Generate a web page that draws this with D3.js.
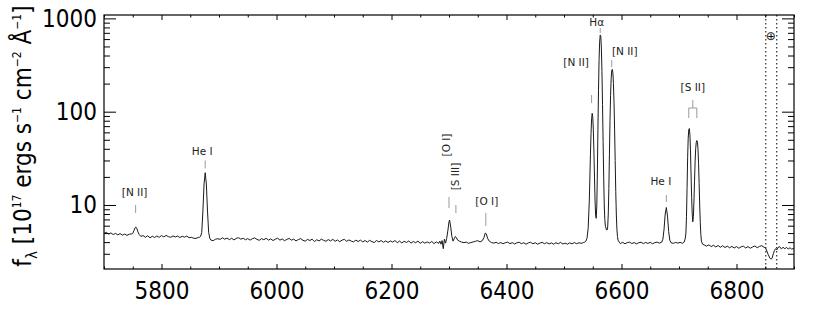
<!DOCTYPE html>
<html>
<head>
<meta charset="utf-8">
<script src="https://cdn.jsdelivr.net/npm/d3@7"></script>
<style>
  html, body { margin: 0; padding: 0; background: #fff; }
  svg { display: block; }
  .big { font-family: "DejaVu Sans Condensed", "DejaVu Sans", sans-serif; font-stretch: condensed; }
  .ann { font-family: "DejaVu Sans", sans-serif; }
</style>
</head>
<body>
<svg id="chart" width="830" height="317"></svg>
<script>
// ---------------- data ----------------
const wavelength = [
  5700,5704,5708,5712,5716,5720,5724,5728,5732,5736,5740,5744,5748,
  5750,5752,5754,5755.5,5757,5759,5761,5764,5768,
  5772,5776,5780,5784,5788,5792,5796,5800,5804,5808,5812,5816,5820,5824,5828,5832,5836,5840,5844,5848,5852,5856,5860,5864,
  5866,5868,5870,5872,5874,5876,5878,5880,5882,5884,5886,5890,5894,5898,
  5902,5906,5910,5914,5918,5922,5926,5930,5934,5938,5942,5946,5950,5954,5958,5962,5966,5970,5974,5978,
  5982,5986,5990,5994,5998,6002,6006,6010,6014,6018,6022,6026,6030,6034,6038,6042,6046,6050,6054,6058,
  6062,6066,6070,6074,6078,6082,6086,6090,6094,6098,6102,6106,6110,6114,6118,6122,6126,6130,6134,6138,
  6142,6146,6150,6154,6158,6162,6166,6170,6174,6178,6182,6186,6190,6194,6198,6202,6206,6210,6214,6218,
  6222,6226,6230,6234,6238,6242,6246,6250,6254,6258,6262,6266,6270,6274,6278,6282,
  6284,6286,6288,6290,6292,6294,6296,6298,6300,6301,6303,6305,6307,6309,6311,6313,6315,6318,6322,6326,
  6330,6334,6338,6342,6346,6350,6354,6358,6361,6363,6365,6367,6370,6374,6378,
  6382,6386,6390,6394,6398,6402,6406,6410,6414,6418,6422,6426,6430,6434,6438,6442,6446,6450,6454,6458,
  6462,6466,6470,6474,6478,6482,6486,6490,6494,6498,6502,6506,6510,6514,6518,6522,6526,6530,6534,6536,6538,
  6540,6542,6544,6546,6547,6548,6549,6550,6551,6552,6553,6554,6555,6556,6557,6558,6559,6560,6561,6562,
  6563,6564,6565,6566,6567,6568,6569,6570,6571,6572,6574,6575,6576,6577,6578,6579,6580,6581,6582,6583,
  6584,6585,6586,6587,6588,6589,6590,6591,6592,6593,6594,6596,
  6598,6602,6606,6610,6614,6618,6622,6626,6630,6634,6638,6642,6646,6650,6654,6658,6662,6666,6670,
  6672,6674,6676,6678,6680,6682,6684,6686,6690,6694,6698,6702,6706,6709,6711,
  6712,6713,6714,6715,6716,6717,6718,6719,6720,6721,6722,6723,6724,6725,6726,6727,6728,6729,6730,6731,
  6732,6733,6734,6735,6736,6737,6738,6739,6741,6744,
  6748,6752,6756,6760,6764,6768,6772,6776,6780,6784,6788,6792,6796,6800,6804,6808,6812,6816,6820,6824,
  6828,6832,6836,6840,6844,6848,6850,6852,6855,6858,6860,6862,6864,6866,6868,6870,6872,6875,6878,6881,
  6884,6887,6890,6893,6896,6900
];
const flux = [
  4.95,5.1,4.88,5.02,4.82,4.96,4.78,4.94,4.75,4.88,4.72,4.86,4.9,
  4.95,5.3,5.7,5.8,5.6,5.15,4.85,4.6,4.7,
  4.5,4.68,4.45,4.62,4.48,4.66,4.5,4.7,4.55,4.72,4.58,4.5,4.66,4.54,4.64,4.48,4.62,4.52,4.64,4.46,4.5,4.4,4.38,4.5,
  4.5,4.6,5.1,8.6,16.8,22.2,16.8,8.6,5.1,4.4,4.2,4.15,4.3,4.35,
  4.28,4.45,4.3,4.42,4.25,4.4,4.22,4.38,4.46,4.3,4.4,4.24,4.36,4.2,4.35,4.44,4.28,4.18,4.36,4.24,
  4.4,4.2,4.33,4.16,4.3,4.4,4.2,4.32,4.14,4.28,4.38,4.2,4.3,4.12,4.26,4.36,4.18,4.1,4.28,4.16,
  4.3,4.05,4.24,4.12,4.3,4.18,4.08,4.26,4.12,4.28,4.08,4.22,4.04,4.2,4.28,4.08,4.22,4.1,4.02,4.2,
  4.06,4.2,4.02,4.16,4.0,4.18,4.04,3.96,4.16,4.02,4.16,3.98,4.12,3.96,4.12,4.0,4.16,3.95,4.1,3.92,
  4.08,3.96,4.12,3.9,4.06,3.94,4.1,3.88,4.04,3.9,4.02,3.9,4.06,3.86,4.02,3.88,
  4.1,3.8,4.15,3.4,4.3,3.9,4.4,5.3,6.6,6.9,5.8,4.6,4.1,4.35,4.6,4.45,4.2,4.1,4.0,3.95,
  4.0,3.88,3.95,4.02,4.08,4.15,4.02,4.15,4.5,5.0,4.9,4.4,4.1,3.95,3.9,
  3.98,3.86,3.96,3.84,3.94,4.0,3.85,3.95,3.82,3.93,3.99,3.85,3.94,3.8,3.93,3.98,3.84,3.94,3.8,3.9,
  3.98,3.84,3.95,3.82,3.92,3.8,3.94,3.84,3.97,3.82,3.9,3.8,3.93,3.83,3.96,3.84,3.94,3.88,3.96,4.0,4.1,
  4.4,5.6,11,35,58,84,96,88,64,38,20,11,7.8,7.2,9.5,22,65,170,360,560,
  664,640,480,270,120,48,20,10,7.0,5.9,5.4,5.4,5.8,8,15,35,80,150,225,275,
  284,260,200,125,65,30,14,8,5.5,4.6,4.2,4.0,
  3.86,3.98,3.84,3.95,4.0,3.86,3.96,3.83,3.94,3.99,3.85,3.97,3.87,3.98,3.84,3.95,4.0,3.9,4.0,
  4.3,5.5,8.0,9.4,7.6,5.2,4.2,3.95,3.88,3.97,3.9,3.98,3.88,4.0,4.4,
  5.0,7.5,15,32,52,64,66,56,38,21,12,8,6.6,7.5,11,18,29,40,47,49,
  48,40,28,17,10,6.5,4.8,4.1,3.8,3.72,
  3.62,3.74,3.58,3.7,3.55,3.68,3.52,3.66,3.5,3.62,3.48,3.6,3.46,3.58,3.44,3.56,3.62,3.46,3.58,3.44,
  3.55,3.64,3.48,3.6,3.66,3.52,3.5,3.3,2.95,2.7,2.62,2.7,3.0,3.25,3.4,3.3,3.5,3.58,3.38,3.52,
  3.4,3.5,3.38,3.48,3.36,3.45
];
const xMajorTicks = [5800, 6000, 6200, 6400, 6600, 6800];
const yMajorTicks = [10, 100, 1000];
const telluricBand = [6851, 6870];
// annotations: line wavelength(s) and label
const lineLabels = [
  { name: "[N II]", wave: [5755] },
  { name: "He I",   wave: [5876] },
  { name: "[O I]",  wave: [6300] },
  { name: "[S III]",wave: [6312] },
  { name: "[O I]",  wave: [6364] },
  { name: "[N II]", wave: [6548] },
  { name: "Hα",     wave: [6563] },
  { name: "[N II]", wave: [6583] },
  { name: "He I",   wave: [6678] },
  { name: "[S II]", wave: [6717, 6731] }
];

// ---------------- layout ----------------
const svg = d3.select("#chart");
const L = 104, R = 794, T = 15, B = 269;
const x = d3.scaleLinear().domain([5700, 6900]).range([L, R]);
const y = d3.scaleLog().domain([2.06, 1087]).range([B, T]);

// ticks
const xMinor = d3.range(5700, 6901, 50).filter(v => v % 200 !== 0);
const yMinor = [];
[1, 10, 100].forEach(dec => { for (let k = 2; k <= 9; k++) { const v = k * dec; if (v >= 2.06 && v <= 1087) yMinor.push(v); } });

function styleAxis(g) {
  g.select(".domain").remove();
  g.selectAll(".tick line").attr("stroke", "#000").attr("stroke-width", 1);
}
// bottom
svg.append("g").attr("transform", `translate(0,${B})`)
  .call(d3.axisBottom(x).tickValues(xMajorTicks).tickSizeInner(-5).tickSizeOuter(0).tickPadding(13).tickFormat(d3.format("d")))
  .call(styleAxis)
  .call(g => g.selectAll("text").attr("class", "big").attr("font-size", 24).attr("fill", "#000"));
svg.append("g").attr("transform", `translate(0,${B})`)
  .call(d3.axisBottom(x).tickValues(xMinor).tickSizeInner(-2.5).tickSizeOuter(0).tickFormat(""))
  .call(styleAxis);
// top
svg.append("g").attr("transform", `translate(0,${T})`)
  .call(d3.axisTop(x).tickValues(xMajorTicks).tickSizeInner(-5).tickSizeOuter(0).tickFormat(""))
  .call(styleAxis);
svg.append("g").attr("transform", `translate(0,${T})`)
  .call(d3.axisTop(x).tickValues(xMinor).tickSizeInner(-2.5).tickSizeOuter(0).tickFormat(""))
  .call(styleAxis);
// left
svg.append("g").attr("transform", `translate(${L},0)`)
  .call(d3.axisLeft(y).tickValues(yMajorTicks).tickSizeInner(-12).tickSizeOuter(0).tickPadding(7).tickFormat(d3.format("d")))
  .call(styleAxis)
  .call(g => g.selectAll("text").attr("class", "big").attr("font-size", 24).attr("fill", "#000"));
svg.append("g").attr("transform", `translate(${L},0)`)
  .call(d3.axisLeft(y).tickValues(yMinor).tickSizeInner(-6).tickSizeOuter(0).tickFormat(""))
  .call(styleAxis);
// right
svg.append("g").attr("transform", `translate(${R},0)`)
  .call(d3.axisRight(y).tickValues(yMajorTicks).tickSizeInner(-12).tickSizeOuter(0).tickFormat(""))
  .call(styleAxis);
svg.append("g").attr("transform", `translate(${R},0)`)
  .call(d3.axisRight(y).tickValues(yMinor).tickSizeInner(-6).tickSizeOuter(0).tickFormat(""))
  .call(styleAxis);

// clip
svg.append("clipPath").attr("id", "plotclip").append("rect")
  .attr("x", L).attr("y", T).attr("width", R - L).attr("height", B - T);

// telluric dotted lines
svg.append("g").selectAll("line").data(telluricBand).join("line")
  .attr("x1", d => x(d)).attr("x2", d => x(d)).attr("y1", T).attr("y2", B)
  .attr("stroke", "#000").attr("stroke-width", 1).attr("stroke-dasharray", "1.5,2.5");
svg.append("text").attr("class", "ann")
  .attr("x", x(d3.mean(telluricBand)) - 0.5).attr("y", 39.5)
  .attr("text-anchor", "middle").attr("font-size", 12).attr("fill", "#111").text("⊕");

// spectrum
const pts = wavelength.map((w, i) => [w, flux[i]]);
svg.append("path").datum(pts)
  .attr("clip-path", "url(#plotclip)")
  .attr("fill", "none").attr("stroke", "#1a1a1a").attr("stroke-width", 1)
  .attr("stroke-linejoin", "round")
  .attr("d", d3.line().x(d => x(d[0])).y(d => y(d[1])));

// frame
svg.append("rect").attr("x", L).attr("y", T).attr("width", R - L).attr("height", B - T)
  .attr("fill", "none").attr("stroke", "#000").attr("stroke-width", 1.2);

// annotation layout (pixel placement of labels and marks)
const annLayout = [
  { dx: -1,  ty: 196,   m: [205, 213],   rot: false },
  { dx: -3,  ty: 154.5, m: [160.5, 168.5], rot: false },
  { dx: 0.5, ty: 145,   m: [197, 208],   rot: true, bx: 450 },
  { dx: 0,   ty: 176.5, m: [205, 213],   rot: true, bx: 459 },
  { dx: 1,   ty: 204.5, m: [213, 226],   rot: false },
  { dx: -15.5, ty: 66,  m: [95, 103],    rot: false },
  { dx: -3.5,ty: 26,    m: [28, 33],     rot: false },
  { dx: 13,  ty: 54.7,  m: [60, 67],     rot: false },
  { dx: -5.5,ty: 185,   m: [195, 202],   rot: false },
  { dx: 0,   ty: 90.5,  m: [100, 108],   rot: false, bracket: 118 }
];
const annG = svg.append("g");
lineLabels.forEach((a, i) => {
  const lay = annLayout[i];
  const xs = a.wave.map(w => x(w));
  const cx = d3.mean(xs);
  if (a.wave.length === 1) {
    annG.append("line").attr("x1", cx).attr("x2", cx).attr("y1", lay.m[0]).attr("y2", lay.m[1])
      .attr("stroke", "#9a9a9a").attr("stroke-width", 1);
  } else {
    const p = `M${cx},${lay.m[0]}V${lay.m[1]}M${xs[0]},${lay.bracket}V${lay.m[1]}H${xs[1]}V${lay.bracket}`;
    annG.append("path").attr("d", p).attr("fill", "none").attr("stroke", "#9a9a9a").attr("stroke-width", 1);
  }
  if (lay.rot) {
    annG.append("text").attr("class", "ann").attr("font-size", 10.5).attr("fill", "#222")
      .attr("text-anchor", "middle")
      .attr("transform", `translate(${lay.bx},${lay.ty}) rotate(-90)`)
      .text(a.name);
  } else {
    annG.append("text").attr("class", "ann").attr("font-size", 10.5).attr("fill", "#222")
      .attr("text-anchor", "middle").attr("x", cx + lay.dx).attr("y", lay.ty).text(a.name);
  }
});

// y-axis title
const yt = svg.append("text").attr("class", "big").attr("font-size", 24).attr("fill", "#000")
  .attr("text-anchor", "middle").attr("transform", "translate(31,136) rotate(-90)");
yt.append("tspan").text("f");
yt.append("tspan").attr("font-size", 15).attr("dy", 6).text("λ");
yt.append("tspan").attr("dy", -6).text(" [10");
yt.append("tspan").attr("font-size", 12).attr("dy", -10).text("17");
yt.append("tspan").attr("dy", 10).text(" ergs s");
yt.append("tspan").attr("font-size", 12).attr("dy", -10).text("−1");
yt.append("tspan").attr("dy", 10).text(" cm");
yt.append("tspan").attr("font-size", 12).attr("dy", -10).text("−2");
yt.append("tspan").attr("dy", 10).text(" Å");
yt.append("tspan").attr("font-size", 12).attr("dy", -10).text("−1");
yt.append("tspan").attr("dy", 10).text("]");
</script>
</body>
</html>
